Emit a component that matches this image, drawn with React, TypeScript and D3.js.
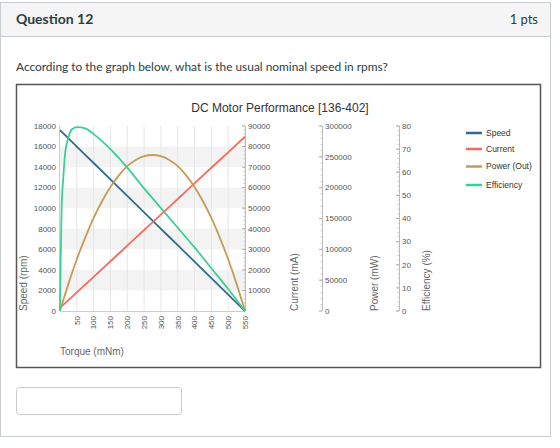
import React from "react";
import * as d3 from "d3";

// torque samples (mNm)
const torqueSteps = [0, 50, 100, 150, 200, 250, 300, 350, 400, 450, 500, 550];
const speedRpm = [17600, 16000, 14400, 12800, 11200, 9600, 8000, 6400, 4800, 3200, 1600, 0];
const currentMa = [1500, 9100, 16600, 24200, 31800, 39400, 46900, 54500, 62100, 69700, 77200, 84800];

const powerTorque = [0, 25, 50, 75, 100, 125, 150, 175, 200, 225, 250, 275, 300, 325, 350, 375, 400, 425, 450, 475, 500, 525, 550];
const powerMw = [0, 44000, 84000, 119000, 151000, 178000, 201000, 220000, 235000, 245000, 251000, 253000, 251000, 245000, 235000, 220000, 201000, 178000, 151000, 119000, 84000, 44000, 0];

const effTorque = [0, 2, 5, 10, 15, 25, 35, 50, 75, 100, 150, 200, 250, 300, 350, 400, 450, 500, 550];
const effPct = [0, 22, 45, 58, 68, 75, 78.5, 79.5, 79, 76.5, 70, 62, 53, 44.5, 36, 27.5, 18.5, 9.5, 0];

const xTicks = [50, 100, 150, 200, 250, 300, 350, 400, 450, 500, 550];
const speedTicks = [0, 2000, 4000, 6000, 8000, 10000, 12000, 14000, 16000, 18000];
const currentTicks = [10000, 20000, 30000, 40000, 50000, 60000, 70000, 80000, 90000];
const powerTicks = [0, 50000, 100000, 150000, 200000, 250000, 300000];
const effTicks = [0, 10, 20, 30, 40, 50, 60, 70, 80];
const bands = [[2000, 4000], [6000, 8000], [10000, 12000], [14000, 16000]];

const series = [
  { name: "Speed", color: "#2e6d8e" },
  { name: "Current", color: "#f96a5d" },
  { name: "Power (Out)", color: "#c69c55" },
  { name: "Efficiency", color: "#3ccf93" },
];

const chartFont = "'Liberation Sans', Arial, sans-serif";
const pageFont = "Lato, 'Open Sans', sans-serif";

export default function App() {
  const left = 60;
  const right = 245;
  const top = 126;
  const bottom = 311;

  const x = d3.scaleLinear().domain([0, 550]).range([left, right]);
  const ySpeed = d3.scaleLinear().domain([0, 18000]).range([bottom, top]);
  const yCurrent = d3.scaleLinear().domain([0, 90000]).range([bottom, top]);
  const yPower = d3.scaleLinear().domain([0, 300000]).range([bottom, top]);
  const yEff = d3.scaleLinear().domain([0, 80]).range([bottom, top]);

  const line = (xs: number[], ys: number[], y: d3.ScaleLinear<number, number>) =>
    d3
      .line<number>()
      .x((d, i) => x(xs[i]))
      .y(d => y(d))
      .curve(d3.curveMonotoneX)(ys) || "";

  const paths = [
    line(torqueSteps, speedRpm, ySpeed),
    line(torqueSteps, currentMa, yCurrent),
    line(powerTorque, powerMw, yPower),
    line(effTorque, effPct, yEff),
  ];

  // right-hand axes: position, ticks, scale, label, label x
  const rightAxes = [
    { ax: 245, ticks: currentTicks, scale: yCurrent, step: 2000, max: 90000, title: "Current (mA)", tx: 298 },
    { ax: 322, ticks: powerTicks, scale: yPower, step: 10000, max: 300000, title: "Power (mW)", tx: 378 },
    { ax: 399, ticks: effTicks, scale: yEff, step: 2, max: 80, title: "Efficiency (%)", tx: 430 },
  ];

  return (
    <svg
      width={560}
      height={448}
      style={{ position: "absolute", left: 0, top: 0, background: "#fff" }}
    >
      {/* card */}
      <rect x={0.5} y={2.5} width={550} height={434} fill="#fff" stroke="#c7cdd1" />
      <rect x={1} y={3} width={549} height={33} fill="#f5f5f5" />
      <line x1={1} x2={550} y1={36.5} y2={36.5} stroke="#c7cdd1" />
      <text x={16} y={24} fontFamily={pageFont} fontWeight="bold" fontSize={14} fill="#2d3b45">
        Question 12
      </text>
      <text x={538} y={24} fontFamily={pageFont} fontSize={13} fill="#2d3b45" textAnchor="end">
        1 pts
      </text>
      <text x={16} y={71} fontFamily={pageFont} fontSize={11.9} fill="#2d3b45">
        According to the graph below, what is the usual nominal speed in rpms?
      </text>
      <rect x={16.5} y={84.5} width={524} height={283} fill="#fff" stroke="#555" strokeWidth={1.5} />
      <rect x={16.5} y={387.5} width={165} height={27} rx={3} fill="#fff" stroke="#ccc" />

      {/* chart */}
      <g fontFamily={chartFont}>
        <text x={280} y={112} textAnchor="middle" fontSize={12} fill="#333">
          DC Motor Performance [136-402]
        </text>

        {bands.map(([a, b], i) => (
          <rect key={i} x={left} width={right - left} y={ySpeed(b)} height={ySpeed(a) - ySpeed(b)} fill="#f3f3f3" />
        ))}
        {xTicks.map(t => (
          <line key={t} x1={x(t)} x2={x(t)} y1={top} y2={bottom} stroke="#e6e6e6" />
        ))}
        <line x1={left - 0.5} x2={left - 0.5} y1={top} y2={bottom} stroke="#ccc" />
        <line x1={left} x2={right} y1={bottom + 0.5} y2={bottom + 0.5} stroke="#ccc" />

        {speedTicks.map(t => (
          <text key={t} x={56} y={ySpeed(t)} dy="0.35em" textAnchor="end" fontSize={8} fill="#555">
            {t}
          </text>
        ))}
        {xTicks.map(t => (
          <text
            key={t}
            transform={`translate(${x(t)},${bottom + 5}) rotate(-90)`}
            dy="0.35em"
            textAnchor="end"
            fontSize={8}
            fill="#555"
          >
            {t}
          </text>
        ))}

        <text transform={`translate(27,${bottom}) rotate(-90)`} fontSize={10} fill="#666">
          Speed (rpm)
        </text>
        <text x={left} y={355} fontSize={10} fill="#666">
          Torque (mNm)
        </text>

        {rightAxes.map(a => (
          <g key={a.title}>
            <line x1={a.ax + 0.5} x2={a.ax + 0.5} y1={top} y2={bottom} stroke="#bbb" />
            {d3.range(0, a.max + a.step / 2, a.step).map(v => (
              <line key={v} x1={a.ax - 1.5} x2={a.ax} y1={a.scale(v)} y2={a.scale(v)} stroke="#ccc" />
            ))}
            {a.ticks.map(t => (
              <g key={t}>
                <line x1={a.ax - 3} x2={a.ax} y1={a.scale(t)} y2={a.scale(t)} stroke="#aaa" />
                <text x={a.ax + 3} y={a.scale(t)} dy="0.35em" fontSize={8} fill="#555">
                  {t}
                </text>
              </g>
            ))}
            <text transform={`translate(${a.tx},${bottom}) rotate(-90)`} fontSize={10} fill="#666">
              {a.title}
            </text>
          </g>
        ))}

        {paths.map((d, i) => (
          <path key={i} d={d} fill="none" stroke={series[i].color} strokeWidth={1.8} />
        ))}

        {series.map((s, i) => (
          <g key={s.name} transform={`translate(466,${[133, 149, 166.5, 185][i]})`}>
            <line x1={0} x2={16} y1={0} y2={0} stroke={s.color} strokeWidth={2.5} />
            <text x={20} dy="0.35em" fontSize={8.5} fill="#333">
              {s.name}
            </text>
          </g>
        ))}
      </g>
    </svg>
  );
}
